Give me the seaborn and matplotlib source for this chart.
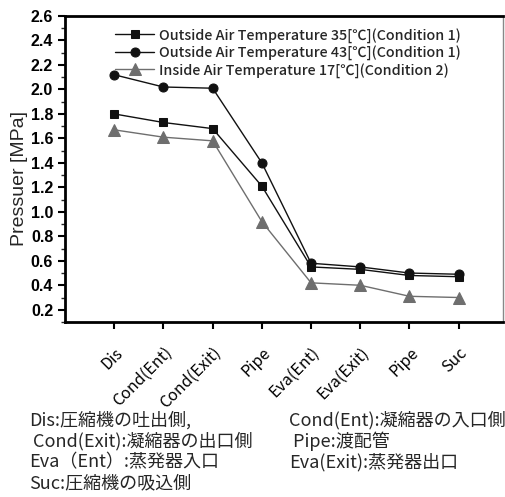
# pressure along the refrigerant circuit for three conditions

import numpy as np
import pandas as pd
import matplotlib.pyplot as plt
import seaborn as sns

points = ['Dis', 'Cond(Ent)', 'Cond(Exit)', 'Pipe', 'Eva(Ent)', 'Eva(Exit)', 'Pipe', 'Suc']
pos = np.arange(1, len(points) + 1)

out35 = [1.80, 1.73, 1.68, 1.21, 0.55, 0.53, 0.48, 0.47]
out43 = [2.12, 2.02, 2.01, 1.40, 0.58, 0.55, 0.50, 0.49]
in17 = [1.67, 1.61, 1.58, 0.92, 0.42, 0.40, 0.31, 0.30]

names = ['Outside Air Temperature 35[℃](Condition 1)',
         'Outside Air Temperature 43[℃](Condition 1)',
         'Inside Air Temperature 17[℃](Condition 2)']

notes_left = ['Dis:圧縮機の吐出側,', ' Cond(Exit):凝縮器の出口側', 'Eva（Ent）:蒸発器入口', 'Suc:圧縮機の吸込側']
notes_right = ['Cond(Ent):凝縮器の入口側', ' Pipe:渡配管', 'Eva(Exit):蒸発器出口']

sns.set_style('ticks')
plt.rcParams['font.family'] = ['Noto Sans CJK JP', 'DejaVu Sans']

fig = plt.figure(figsize=(5.05, 4.97), dpi=100)
ax = fig.add_axes([65 / 505, 1 - 322 / 497, 438 / 505, 306 / 497])

styles = [(out35, 's', 6, '#111111'), (out43, 'o', 6.5, '#111111'), (in17, '^', 8, '#6e6e6e')]
for (vals, mk, ms, col), name in zip(styles, names):
    sns.lineplot(x=pos, y=vals, ax=ax, marker=mk, color=col, markersize=ms,
                 markeredgecolor=col, linewidth=1, label=name)

yt = np.arange(0.2, 2.61, 0.2)
ax.set_xlim(0, 8.9)
ax.set_ylim(0.1, 2.6)
ax.set_yticks(yt)
ax.set_yticklabels([f'{v:.1f}' for v in yt], fontsize=11.5, fontweight='bold',
                   family=['Liberation Sans', 'DejaVu Sans'])
ax.set_yticks(np.arange(0.1, 2.61, 0.1), minor=True)
ax.set_xticks(pos)
ax.set_xticklabels(points, rotation=45, ha='right', rotation_mode='anchor', fontsize=11.5)
ax.set_xlabel('')
ax.set_ylabel('Pressuer [MPa]', fontsize=14, family=['Liberation Sans', 'DejaVu Sans'])
ax.yaxis.set_label_coords(-0.085, 0.47)
ax.tick_params(axis='both', direction='out', width=1.5, length=5, colors='black')
ax.tick_params(axis='x', pad=11)
ax.tick_params(axis='y', which='minor', length=3, width=1)

for s in ['left', 'bottom', 'top']:
    ax.spines[s].set_linewidth(2)
    ax.spines[s].set_color('black')
ax.spines['right'].set_linewidth(1)
ax.spines['right'].set_color('#888888')

ax.legend(loc='upper left', bbox_to_anchor=(0.095, 0.99), frameon=False,
          prop={'size': 10.3, 'weight': 'medium'},
          handlelength=2.7, handletextpad=0.35, labelspacing=0.18, borderaxespad=0.2)

rows = [420, 441, 462, 483]
for y, t in zip(rows, notes_left):
    fig.text(29 / 505, 1 - y / 497, t, fontsize=13, va='center')
for y, t in zip(rows, notes_right):
    fig.text(289 / 505, 1 - y / 497, t, fontsize=13, va='center')

fig.savefig('out.png', dpi=100)
